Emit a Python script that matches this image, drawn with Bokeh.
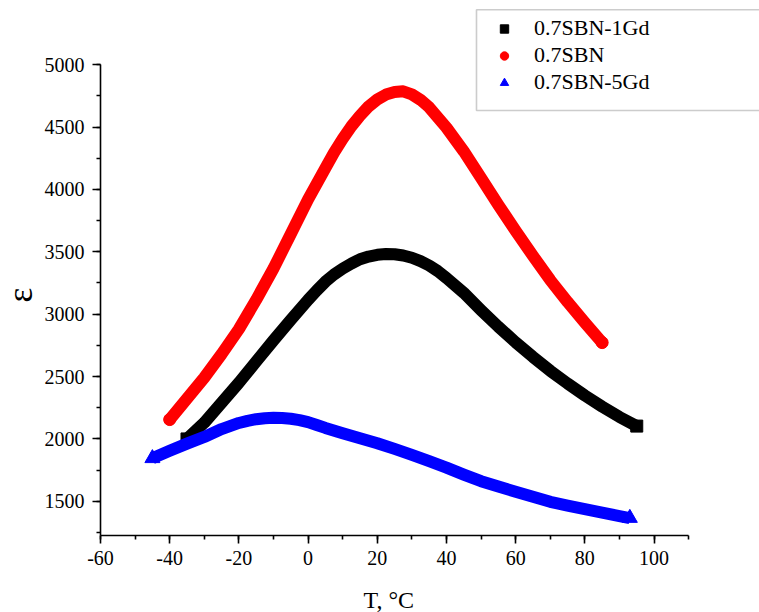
from bokeh.plotting import figure
from bokeh.models import (Range1d, SingleIntervalTicker, Legend, LegendItem,
                          BoxAnnotation, Title)
from bokeh.embed import file_html
from bokeh.resources import INLINE

# ---- data ----
T_black = [-35, -30, -25, -20, -15, -10, -5, 0, 2.5, 5, 7.5, 10, 12.5, 15, 17.5, 20,
           22.5, 25, 27.5, 30, 32.5, 35, 37.5, 40, 45, 50, 55, 60, 65, 70, 75, 80,
           85, 90, 95]
eps_black = [2000, 2130, 2290, 2450, 2620, 2790, 2955, 3115, 3190, 3260, 3318, 3365,
             3405, 3440, 3462, 3476, 3482, 3480, 3470, 3452, 3425, 3390, 3345, 3290,
             3171, 3032, 2899, 2774, 2657, 2546, 2444, 2348, 2259, 2176, 2103]

T_red = [-40, -35, -30, -25, -20, -15, -10, -5, 0, 5, 7.5, 10, 12.5, 15, 17.5, 20,
         22.5, 25, 27.5, 30, 32.5, 35, 40, 45, 50, 55, 60, 65, 70, 75, 80, 85]
eps_red = [2155, 2323, 2491, 2680, 2880, 3115, 3366, 3642, 3920, 4170, 4295, 4405,
           4505, 4590, 4665, 4720, 4760, 4780, 4786, 4762, 4718, 4658, 4495, 4305,
           4092, 3875, 3668, 3467, 3273, 3098, 2933, 2772]

T_blue = [-45, -40, -35, -30, -25, -20, -17.5, -15, -12.5, -10, -7.5, -5, -2.5, 0,
          2.5, 5, 10, 15, 20, 25, 30, 35, 40, 45, 50, 55, 60, 65, 70, 75, 80, 85,
          90, 93]
eps_blue = [1845, 1905, 1962, 2016, 2079, 2128, 2145, 2158, 2166, 2169, 2168, 2162,
            2151, 2135, 2112, 2088, 2045, 2005, 1965, 1920, 1872, 1822, 1770, 1714,
            1661, 1618, 1577, 1537, 1496, 1466, 1437, 1409, 1382, 1366]

series_names = ["0.7SBN-1Gd", "0.7SBN", "0.7SBN-5Gd"]

x_ticks = [-60, -40, -20, 0, 20, 40, 60, 80, 100]
x_tick_labels = ["-60", "-40", "-20", "0", "20", "40", "60", "80", "100"]
y_ticks = [1500, 2000, 2500, 3000, 3500, 4000, 4500, 5000]
y_tick_labels = ["1500", "2000", "2500", "3000", "3500", "4000", "4500", "5000"]
x_axis_extent = (-60, 110)
y_axis_extent = (1226, 5000)

FONT = "Liberation Serif"

p = figure(width=759, height=612, output_backend="svg", toolbar_location=None,
           x_range=Range1d(-60, 130.48), y_range=Range1d(1226, 5514),
           min_border_left=99, min_border_right=0, min_border_top=0,
           min_border_bottom=76)
p.outline_line_color = None
p.grid.visible = False
p.background_fill_color = "white"

# axes
xa = p.xaxis[0]
xa.ticker = SingleIntervalTicker(interval=20, num_minor_ticks=2)
xa.bounds = x_axis_extent
xa.major_label_overrides = dict(zip(x_ticks, x_tick_labels))
# blank axis label used only as vertical spacing before the axis title
xa.axis_label = " "
xa.axis_label_text_font_size = "2px"
xa.axis_label_standoff = 12

ya = p.yaxis[0]
ya.ticker = SingleIntervalTicker(interval=500, num_minor_ticks=2)
ya.bounds = y_axis_extent
ya.major_label_overrides = dict(zip(y_ticks, y_tick_labels))

for ax in (xa, ya):
    ax.axis_line_width = 1.6
    ax.axis_line_color = "black"
    ax.major_tick_line_width = 1.6
    ax.minor_tick_line_width = 1.6
    ax.major_tick_out = 8
    ax.major_tick_in = 0
    ax.minor_tick_out = 4
    ax.minor_tick_in = 0
    ax.major_label_text_font = FONT
    ax.major_label_text_font_size = "20px"
    ax.major_label_text_color = "black"

xa.major_label_standoff = 7
ya.major_label_standoff = 8

# axis titles, placed along the drawn axis extent
p.add_layout(Title(text="T, °C", align="left", offset=263, standoff=0,
                   text_font=FONT, text_font_size="24px",
                   text_font_style="normal", text_color="black"), "below")
p.add_layout(Title(text="ε", align="left", offset=233, standoff=0,
                   vertical_align="top",
                   text_font=FONT, text_font_size="35px",
                   text_font_style="normal", text_color="black"), "left")

# curves
W = 12
p.line(T_black, eps_black, line_color="black", line_width=W, line_join="round")
sq = p.scatter([T_black[0], T_black[-1]], [eps_black[0], eps_black[-1]],
               marker="square", size=12, color="black")

p.line(T_red, eps_red, line_color="red", line_width=W, line_join="round",
       line_cap="round")
ci = p.scatter([T_red[0], T_red[-1]], [eps_red[0], eps_red[-1]],
               marker="circle", size=12, color="red")

p.line(T_blue, eps_blue, line_color="blue", line_width=W, line_join="round")
tr = p.scatter([T_blue[0], T_blue[-1]], [eps_blue[0], eps_blue[-1]],
               marker="triangle", size=15, color="blue")

# legend box
box = BoxAnnotation(left=476, right=800, top=9.3, bottom=110,
                    left_units="canvas", right_units="canvas",
                    top_units="canvas", bottom_units="canvas",
                    fill_alpha=0, line_color="#555555", line_width=1.6)
p.add_layout(box)

legend = Legend(items=[LegendItem(label=series_names[0], renderers=[sq]),
                       LegendItem(label=series_names[1], renderers=[ci]),
                       LegendItem(label=series_names[2], renderers=[tr])],
                location=(382, 440), padding=6, spacing=1,
                glyph_width=44, glyph_height=21, label_height=21,
                label_standoff=8, border_line_color=None,
                background_fill_alpha=0, label_text_font=FONT,
                label_text_font_size="22px", label_text_color="black")
p.add_layout(legend)

open("out.html", "w").write(file_html(p, INLINE))
